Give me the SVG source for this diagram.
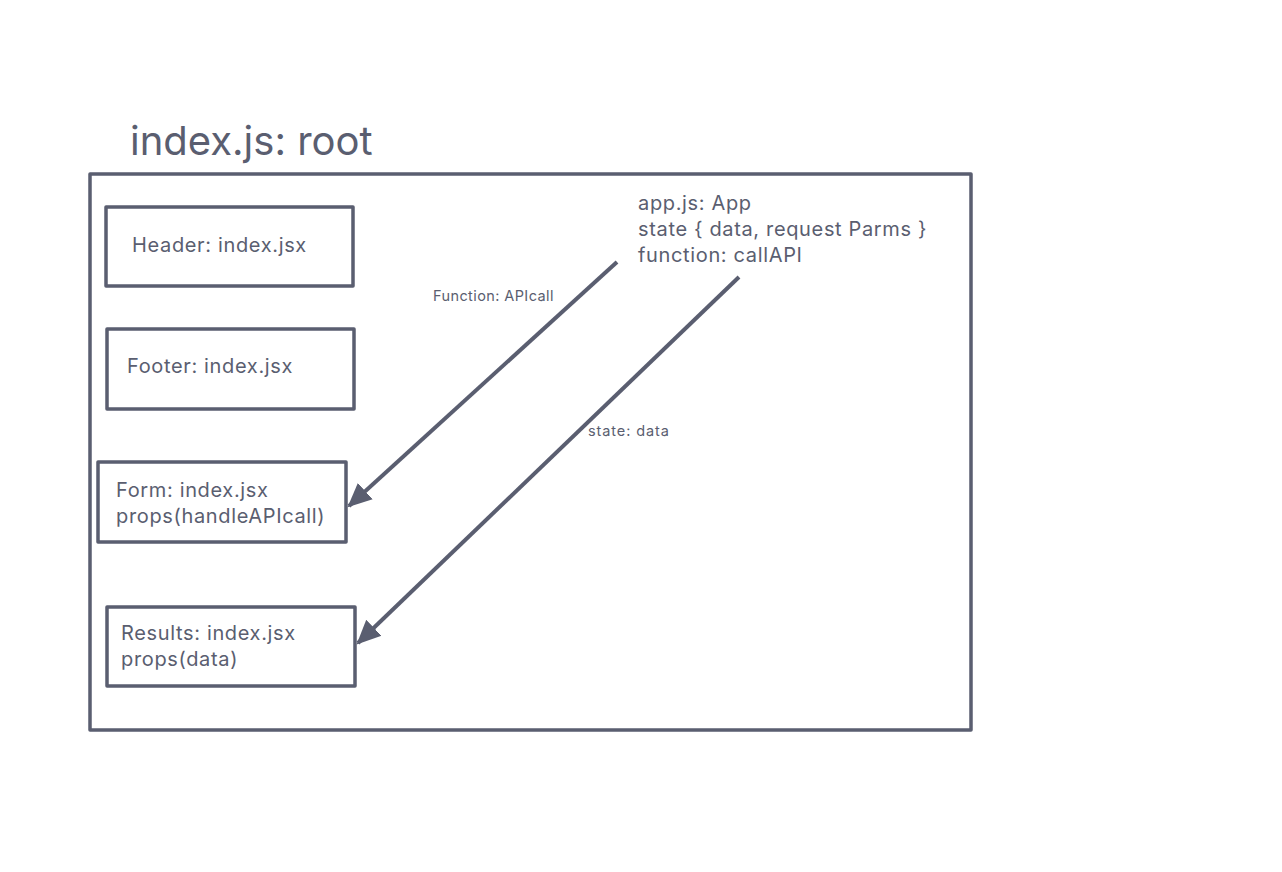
<svg xmlns="http://www.w3.org/2000/svg" width="1282" height="872" viewBox="0 0 1282 872">
<style>
.box{fill:none;stroke:#5a5e70;stroke-width:3.5;stroke-linejoin:round}
.t{font-family:Inter,"Liberation Sans",sans-serif;fill:#5a5e70;font-size:20px;letter-spacing:0.65px}
.s{font-family:Inter,"Liberation Sans",sans-serif;fill:#5a5e70;font-size:14.5px;letter-spacing:0.4px}
.c{stroke:#5a5e70;stroke-width:4;fill:none}
</style>
<defs>
<marker id="ah" markerUnits="userSpaceOnUse" markerWidth="26" markerHeight="26" viewBox="0 0 26 26" refX="22" refY="13" orient="auto">
<path d="M0,2 L24,13 L0,24 Z" fill="#5a5e70"/>
</marker>
</defs>
<rect width="1282" height="872" fill="#fff"/>
<g id="root">
<text class="t" x="130" y="155" style="font-size:40px;letter-spacing:0">index.js: root</text>
<rect class="box" x="90" y="174" width="881" height="556"/>
</g>
<g id="app">
<text class="t" x="638" y="210">app.js: App</text>
<text class="t" x="638" y="236">state { data, request Parms }</text>
<text class="t" x="638" y="262">function: callAPI</text>
</g>
<g id="header">
<rect class="box" x="106" y="207" width="247" height="79"/>
<text class="t" x="132" y="252">Header: index.jsx</text>
</g>
<g id="footer">
<rect class="box" x="107" y="329" width="247" height="80"/>
<text class="t" x="127" y="373">Footer: index.jsx</text>
</g>
<g id="form">
<rect class="box" x="98" y="462" width="248" height="80"/>
<text class="t" x="116" y="497">Form: index.jsx</text>
<text class="t" x="116" y="523">props(handleAPIcall)</text>
</g>
<g id="results">
<rect class="box" x="107" y="607" width="248" height="79"/>
<text class="t" x="121" y="640">Results: index.jsx</text>
<text class="t" x="121" y="666">props(data)</text>
</g>
<g id="connectors">
<line class="c" x1="617" y1="262" x2="349" y2="506" marker-end="url(#ah)"/>
<line class="c" x1="739" y1="277" x2="358" y2="643" marker-end="url(#ah)"/>
<text class="s" x="433" y="301">Function: APIcall</text>
<text class="s" x="588" y="436" style="letter-spacing:0.9px">state: data</text>
</g>
</svg>
